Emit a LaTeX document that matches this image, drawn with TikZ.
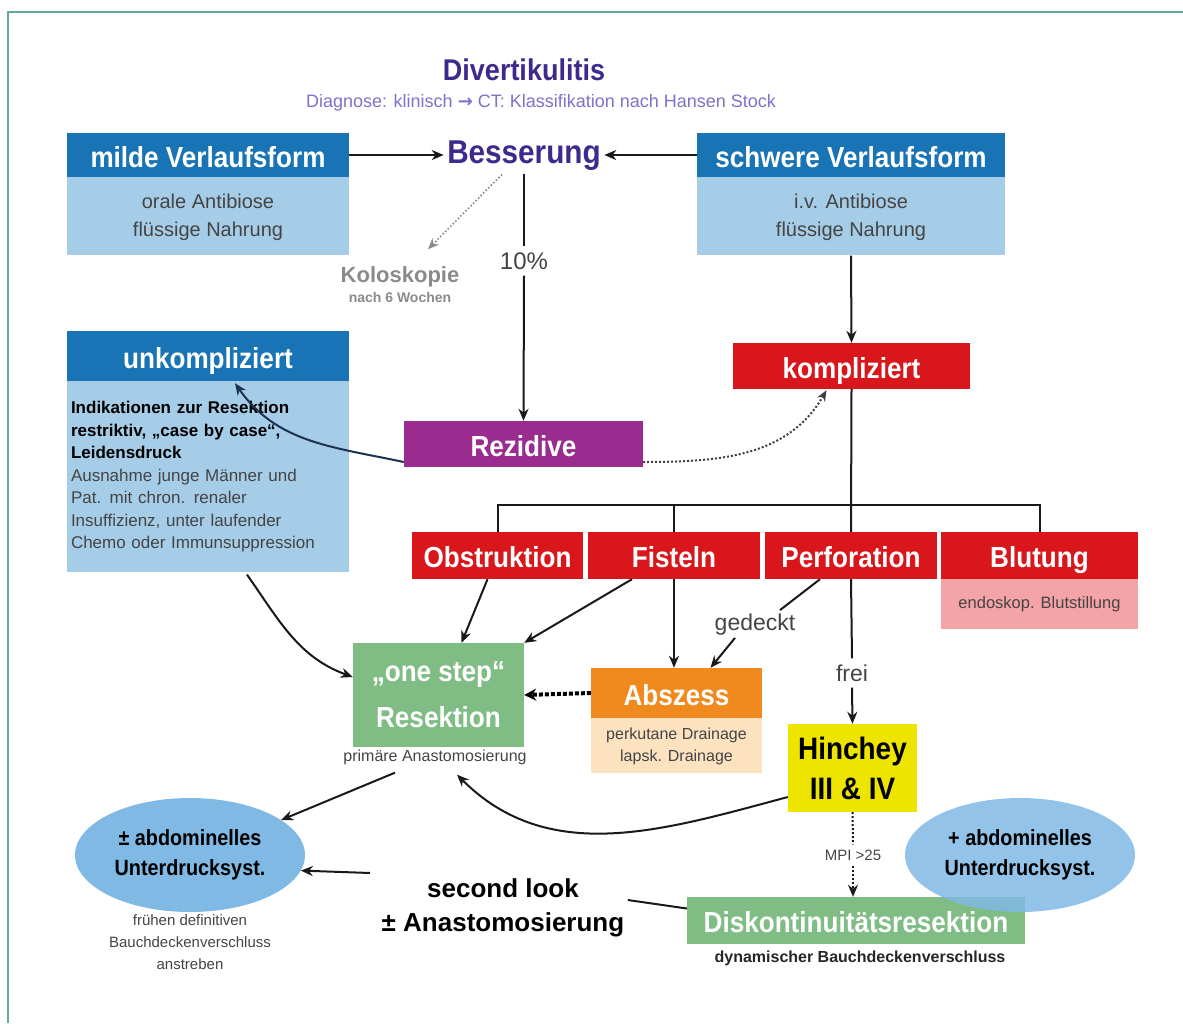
\documentclass[tikz,border=0pt]{standalone}
\usepackage{fontspec}
\setmainfont{Liberation Sans}
\newfontfamily\condfont[FakeStretch=0.9]{Liberation Sans}
\newfontfamily\symfont{DejaVu Sans}
\usetikzlibrary{arrows.meta,positioning,shapes.geometric,calc}
\definecolor{cframe}{RGB}{104,166,160}
\definecolor{ctitle}{RGB}{62,42,140}
\definecolor{csub}{RGB}{128,112,200}
\definecolor{cblue}{RGB}{24,116,180}
\definecolor{clight}{RGB}{166,205,232}
\definecolor{cpurple}{RGB}{154,43,143}
\definecolor{cred}{RGB}{217,22,28}
\definecolor{cpink}{RGB}{244,163,166}
\definecolor{corange}{RGB}{240,138,30}
\definecolor{cpeach}{RGB}{253,226,192}
\definecolor{cgreen}{RGB}{127,189,133}
\definecolor{cyellow}{RGB}{237,229,0}
\definecolor{cell}{RGB}{128,185,228}
\definecolor{ctxt}{RGB}{68,68,68}
\definecolor{cgray}{RGB}{138,138,138}
\definecolor{cnavy}{RGB}{30,50,80}

\begin{document}
\begin{tikzpicture}[x=1pt,y=-1pt,
        hd/.style={fill=cblue, text=white, inner sep=0pt, minimum height=44pt,
            text height=24pt, text depth=0pt,
            font=\condfont\bfseries\fontsize{29}{32}\selectfont},
        bd/.style={fill=clight, text=ctxt, inner sep=0pt, align=center,
            font=\fontsize{20}{28}\selectfont},
        redbox/.style={fill=cred, text=white, inner sep=0pt, minimum height=47pt,
            text height=24pt, text depth=0pt,
            font=\condfont\bfseries\fontsize{29}{32}\selectfont},
        ell/.style={ellipse, fill=cell, inner sep=0pt, align=center,
            minimum width=230pt, minimum height=114pt,
            font=\condfont\bfseries\fontsize{22}{30}\selectfont},
        small/.style={text=ctxt, align=center, font=\fontsize{15}{22}\selectfont},
        lnk/.style={draw=black!90, line width=2pt},
        arr/.style={lnk, -{Stealth[length=12pt,width=10pt]}},
    ]
    \useasboundingbox (0,0) rectangle (1183,1023);
    \draw[cframe, line width=1.5pt] (8,1023) -- (8,12) -- (1183,12);

    % title
    \node[text=ctitle, font=\condfont\bfseries\fontsize{30}{32}\selectfont] (title) at (524,70) {Divertikulitis};
    \node[text=csub, font=\fontsize{18}{20}\selectfont] (sub) at (541,103)
        {Diagnose: klinisch {\symfont\bfseries →} CT: Klassifikation nach Hansen Stock};

    % top row
    \node[hd, minimum width=282pt] (milde) at (208,155) {milde Verlaufsform};
    \node[bd, minimum width=282pt, minimum height=78pt, anchor=north] (mildeb) at (milde.south)
        {\strut orale Antibiose\\\strut flüssige Nahrung};
    \node[hd, minimum width=308pt] (schwere) at (851,155) {schwere Verlaufsform};
    \node[bd, minimum width=308pt, minimum height=78pt, anchor=north] (schwereb) at (schwere.south)
        {\strut i.v. Antibiose\\\strut flüssige Nahrung};
    \node[text=ctitle, font=\condfont\bfseries\fontsize{33}{36}\selectfont] (bess) at (524,156) {Besserung};
    \node[text=cgray, font=\bfseries\fontsize{22}{24}\selectfont] (kolo) at (400,277) {Koloskopie};
    \node[text=cgray, font=\bfseries\fontsize{14}{16}\selectfont, below=-2pt of kolo] (wochen) {nach 6 Wochen};
    \node[text=ctxt, font=\fontsize{24}{26}\selectfont, inner sep=6pt] (pct) at (524,261) {10\%};

    % middle
    \node[hd, minimum width=282pt, minimum height=50pt] (unk) at (208,356) {unkompliziert};
    \node[fill=clight, minimum width=282pt, minimum height=191pt, inner sep=0pt, anchor=north,
        text width=274pt, align=left, font=\fontsize{17}{22.5}\selectfont] (unkb) at (unk.south)
        {\textbf{Indikationen zur Resektion}\\
         \textbf{restriktiv, „case by case“,}\\
         \textbf{Leidensdruck}\\
         \textcolor{ctxt}{Ausnahme junge Männer und}\\
         \textcolor{ctxt}{Pat. mit chron. renaler}\\
         \textcolor{ctxt}{Insuffizienz, unter laufender}\\
         \textcolor{ctxt}{Chemo oder Immunsuppression}};
    \node[redbox, fill=cpurple, minimum width=239pt, minimum height=46pt] (rez) at (523.5,444) {Rezidive};
    \node[redbox, minimum width=237pt, minimum height=46pt] (komp) at (851.5,366) {kompliziert};

    % complications
    \node[redbox, minimum width=171pt] (obst) at (497.5,555.5) {Obstruktion};
    \node[redbox, minimum width=172pt] (fist) at (674,555.5) {Fisteln};
    \node[redbox, minimum width=172pt] (perf) at (851,555.5) {Perforation};
    \node[redbox, minimum width=197pt] (blut) at (1039.5,555.5) {Blutung};
    \node[fill=cpink, text=ctxt, minimum width=197pt, minimum height=50pt, inner sep=0pt, anchor=north,
        font=\fontsize{16.5}{20}\selectfont] (blutb) at (blut.south) {endoskop. Blutstillung};
    \coordinate (bar) at (851,505);

    % treatment
    \node[fill=cgreen, text=white, minimum width=171pt, minimum height=104pt, inner sep=0pt, align=center,
        font=\condfont\bfseries\fontsize{29}{46}\selectfont] (one) at (438.5,695) {„one step“\\Resektion};
    \node[text=ctxt, font=\fontsize{16}{18}\selectfont, inner sep=2pt] (prim) at (435,757) {primäre Anastomosierung};
    \node[redbox, fill=corange, minimum width=171pt, minimum height=50pt] (absz) at (676.5,693) {Abszess};
    \node[fill=cpeach, text=ctxt, minimum width=171pt, minimum height=55pt, inner sep=0pt, anchor=north,
        align=center, font=\fontsize{16}{22}\selectfont] (abszb) at (absz.south)
        {perkutane Drainage\\lapsk. Drainage};
    \node[text=ctxt, font=\fontsize{23}{24}\selectfont, inner sep=2pt] (ged) at (755,625) {gedeckt};
    \node[text=ctxt, font=\fontsize{23}{24}\selectfont, inner sep=6pt] (frei) at (852,673) {frei};
    \node[fill=cyellow, minimum width=129pt, minimum height=88pt, inner sep=0pt, align=center,
        font=\condfont\bfseries\fontsize{31}{40}\selectfont] (hinch) at (852.5,768) {Hinchey\\III \& IV};
    \node[text=ctxt, font=\fontsize{15}{18}\selectfont, inner sep=5pt] (mpi) at (853,855) {MPI >25};

    % bottom
    \node[fill=cgreen, text=white, minimum width=338pt, minimum height=47pt, inner sep=0pt,
        text height=24pt, text depth=0pt,
        font=\condfont\bfseries\fontsize{29}{32}\selectfont] (disk) at (856,920.5) {Diskontinuitätsresektion};
    \node[text=black!85, font=\bfseries\fontsize{16}{18}\selectfont] (dyn) at (860,958) {dynamischer Bauchdeckenverschluss};
    \node[ell, fill opacity=0.85, text opacity=1] (rell) at (1020,855) {+ abdominelles\\Unterdrucksyst.};
    \node[ell] (lell) at (190,855) {± abdominelles\\Unterdrucksyst.};
    \node[small] (frueh) at (190,942) {frühen definitiven\\Bauchdeckenverschluss\\anstreben};
    \node[align=center, font=\bfseries\fontsize{26}{34}\selectfont] (sl) at (503,908) {second look\\± Anastomosierung};

    % connectors
    \draw[arr] (milde.east) -- (milde.east -| bess.west);
    \draw[arr] (schwere.west) -- (schwere.west -| bess.east);
    \draw[cgray, line width=1.6pt, dotted, -{Stealth[length=11pt,width=9pt]}]
        ($(bess.south)+(-22,0)$) -- ($(kolo.north)+(28,-14)$);
    \draw[lnk] (bess.south) -- (pct.north);
    \draw[arr] (pct.south) -- (rez.north);
    \draw[arr] (schwereb.south) -- (komp.north);
    \draw[arr, draw=cnavy] ($(rez.west)+(0,18)$) to[out=168, in=-55] ($(unk.south)+(27,2)$);
    \draw[lnk, draw=black!75, dotted, -{Stealth[length=11pt,width=9pt]}]
        ($(rez.east)+(0,18)$) to[out=0, in=240] ($(komp.south)+(-25,1)$);
    \draw[lnk] (komp.south) -- (perf.north);
    \draw[lnk] (obst.north) -- (obst.north |- bar) -- (blut.north |- bar) -- (blut.north);
    \draw[lnk] (fist.north) -- (fist.north |- bar);
    \draw[arr] ($(obst.south)+(-10,0)$) -- ($(one.north)+(23,0)$);
    \draw[arr] ($(fist.south)+(-42,0)$) -- (one.north east);
    \draw[arr] (fist.south) -- (fist.south |- absz.north);
    \draw[lnk] ($(perf.south)+(-31,0)$) -- ($(ged.north)+(25,-2)$);
    \draw[arr] ($(ged.south)+(-20,0)$) -- ($(absz.north)+(34,0)$);
    \draw[lnk] (perf.south) -- (frei.north);
    \draw[arr] (frei.south) -- (hinch.north);
    \draw[arr] ($(unkb.south)+(39,2)$) to[out=-55, in=160] ($(one.west)+(0,-18)$);
    \draw[line width=4pt, dotted, -{Stealth[length=12pt,width=12pt]}] (absz.west) -- (one.east);
    \draw[arr] ($(hinch.west)+(0,29)$) to[out=195, in=-45] ($(prim.south)+(22,8)$);
    \draw[lnk, dotted] (hinch.south) -- (mpi.north);
    \draw[lnk, dotted, -{Stealth[length=12pt,width=10pt]}] (mpi.south) -- (mpi.south |- disk.north);
    \draw[arr] ($(prim.south)+(-40,6)$) -- (lell.21);
    \draw[arr] ($(sl.west)+(-8,-35)$) -- (lell.-8);
    \draw[lnk] ($(sl.east)+(0,-8)$) -- ($(disk.west)+(0,-12)$);
\end{tikzpicture}
\end{document}
